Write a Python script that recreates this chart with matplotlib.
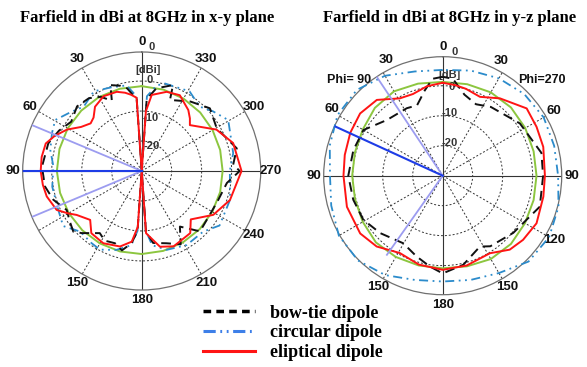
import numpy as np
import matplotlib.pyplot as plt
from matplotlib.lines import Line2D

plt.rcParams['font.family'] = ['Liberation Sans', 'DejaVu Sans']

# radial range of both polar plots (dBi)
R_MIN = -30
R_MAX = 9.7
DB_GRID = [-20, -10, 0]

# ---------------- x-y plane (left) ----------------
xy_bowtie_ang = [0, 4, 10, 14, 20, 23, 29, 36, 45, 55, 64, 73.5, 87.5, 99, 108, 117.5,
                 125, 131.6, 136, 146, 152, 159.7, 166, 172, 176, 180, 184, 189, 199, 208,
                 214.5, 224, 237.2, 249.3, 262, 270, 274, 283.4, 299.6, 312.6, 325, 338.3,
                 340, 350, 356, 360]
xy_bowtie_db = [-30, -6, -2, -0.7, 0.5, -4.5, -1.7, 0, 0.5, -1.3, 0.7, 2.5, 3.3, 2.7, 1, -1.8,
                -0.7, 0.5, -1.2, -5, -3.7, -4.3, -2.7, -5.7, -10, -30, -10, -5.7, -4.5, -2.3,
                -7.5, -2, -3, -2.7, -1.3, 2.7, 0.6, 2.6, -1.2, 0.9, -1.7, -4.5,
                0.5, -2, -6, -30]

xy_circ_ang = [0, 4, 10, 20, 31, 42, 50, 59.5, 67, 77, 87, 100, 115, 125, 134.6, 145, 152,
               162, 172, 176, 180, 184, 188, 197.6, 211.3, 225.4, 235, 252, 270, 281, 300.5,
               310, 318, 329, 345, 350, 356, 360]
xy_circ_db = [-30, -5, -1, -0.3, 1, -1.1, 0.7, 3.5, 2.5, 1.3, -0.5, 0.3, 0.7, 2, -1.2, -0.7, -0.3,
              -2.3, -5, -10, -30, -10, -5, -2.4, -1.1, -1.2, 1.7, 1, -0.6, 1.1, 3.5,
              1, -1.1, 1, 0.2, -1, -5, -30]

xy_ell_ang = [0, 4, 8, 12, 17.5, 27, 36, 42, 47, 54, 61, 68, 74, 82, 90, 98, 105, 114.6, 120,
              124, 133.5, 141, 152, 164, 172, 176, 180, 184, 193.6, 203, 218, 225.4, 238.5,
              251.8, 270, 287, 299, 313.6, 317.5, 322.6, 333.3, 342.5, 352.5, 356, 360]
xy_ell_db = [-30, -5.5, -4.3, -3.3, -2.3, -2.0, -3.5, -6.0, -6.7, -5.0, -1.5, 1.3, 3.3, 3.7, 3.7,
             3.3, 2.8, 1.2, -1.7, -3.8, -6.3, -3.3, -2.7, -3.8, -6.2, -11.3, -30, -9.2, -4.0,
             -2.7, -3.7, -7.0, -2.0, 1.0, 3.3, 1.9, -1.5, -7.8, -6.2, -4.4, -1.7, -2.3, -4.4,
             -10, -30]

xy_ref_ang = list(range(0, 361, 15))
xy_ref_db = [-1.7, -1.6, -1.5, -1.5, -1.5, -1.6, -1.7, -1.8, -1.9, -2.0, -2.1, -2.2, -2.3,
             -2.4, -2.5, -2.6, -2.8, -2.9, -3.0, -2.9, -2.7, -2.4, -2.1, -1.9, -1.7]

xy_main_lobe = 90
xy_3db_dirs = [67.3, 112.7]
xy_3db_ends = [R_MAX, R_MAX]

# ---------------- y-z plane (right) ----------------
yz_bowtie_ang = [0, 6, 12, 20, 28, 45, 60, 74, 90, 105, 119, 132.6, 149.8, 162, 172, 180, 193,
                 207.7, 214, 231, 252.3, 270, 283, 304.1, 325, 335, 345, 354, 360]
yz_bowtie_db = [3.0, 2.5, -1.0, -5.0, -4.5, -3.7, 0.5, 1.0, 1.5, 0.9, 0.3, -1.7, -3.9, -1.7, 0.6,
                2.6, 0.5, -3.3, -1.6, 0.3, 4.0, 3.5, 3.8, 1.1, -2.0, -3.7, -2.0, 2.5, 3.0]

yz_circ_ang = list(range(0, 361, 15))
yz_circ_db = [5.3, 6.0, 8.5, 10.5, 10.5, 9.0, 7.6, 8.5, 10.0, 10.0, 8.3, 6.0, 5.3, 6.0, 7.5,
              10.5, 11.0, 10.0, 8.5, 8.5, 8.9, 8.5, 7.5, 6.3, 5.3]

yz_ell_ang = [0, 10, 20, 29, 41, 53, 65, 78, 90, 108, 125, 137, 151, 165, 180, 195, 211.4,
              222.2, 231.4, 243.1, 258.2, 270, 286, 297.5, 308.7, 323.5, 334.7, 345, 352, 360]
yz_ell_db = [1.0, 0.3, -1.0, -0.5, 3.5, 4.5, 4.0, 3.4, 3.1, 3.6, 3.6, 2.3, -0.5, 0.7, 1.4, 1.0,
             0.3, 3.3, 4.3, 5.1, 4.3, 4.1, 4.9, 5.3, 5.9, 2.1, -0.9, 0.0, 0.5, 1.0]

yz_ref_ang = list(range(0, 361, 15))
yz_ref_db = [1.3, 1.8, 2.5, 2.0, 0.8, 0.3, 0.2, 0.3, 0.8, 1.5, 1.3, 1.0, 0.9, 1.3, 2.1, 2.2,
             1.7, 1.4, 1.3, 1.4, 1.8, 2.2, 2.1, 1.6, 1.3]

yz_main_lobe = 65.4
yz_3db_dirs = [33.7, 144.8]
yz_3db_ends = [R_MAX, 2.3]

# angle labels (plot angle, text)
xy_angle_labels = [(0, "0"), (30, "30"), (60, "60"), (90, "90"), (150, "150"), (180, "180"),
                   (210, "210"), (240, "240"), (270, "270"), (300, "300"), (330, "330")]
yz_angle_labels = [(0, "0"), (26, "30"), (59, "60"), (90, "90"), (150, "150"), (180, "180"),
                   (210, "150"), (240, "120"), (270, "90"), (300, "60"), (333, "30")]

BLACK = "#111111"
CIRC = "#2b8bcb"
RED = "#ff1414"
GREEN = "#8cc63f"
LOBE = "#1e3ce6"
LOBE_3DB = "#9c9cf0"

DASH_BT = (0, (5, 3))
DASH_CIRC = (0, (5, 2.5, 1, 2.5, 1, 2.5))


def label(ax, theta, r, text, dx=0, dy=0, **kw):
    # dx, dy in pixels
    ax.annotate(text, xy=(np.deg2rad(theta), r), xytext=(dx * 0.72, dy * 0.72),
                textcoords="offset points", ha="center", va="center",
                annotation_clip=False, **kw)


def setup(ax):
    ax.set_theta_zero_location("N")
    ax.set_theta_direction(1)
    ax.set_ylim(R_MIN, R_MAX)
    ax.set_yticks(DB_GRID)
    ax.set_yticklabels([])
    ax.set_xticks(np.deg2rad(np.arange(0, 360, 30)))
    ax.set_xticklabels([])
    ax.grid(True, color="#333333", linestyle=(0, (2, 2)), linewidth=0.7)
    ax.spines["polar"].set_color("#707070")
    ax.spines["polar"].set_linewidth(0.9)
    # solid cross
    ax.plot(np.deg2rad([0, 0, 180, 180]), [R_MAX, R_MIN, R_MIN, R_MAX], color="#333333", lw=0.8)
    ax.plot(np.deg2rad([90, 90, 270, 270]), [R_MAX, R_MIN, R_MIN, R_MAX], color="#333333", lw=0.8)


def curves(ax, ref, bt, circ, ell):
    ax.plot(np.deg2rad(ref[0]), ref[1], color=GREEN, lw=1.4, zorder=3)
    ax.plot(np.deg2rad(circ[0]), circ[1], color=CIRC, lw=1.3, ls=DASH_CIRC, zorder=4, clip_on=False)
    ax.plot(np.deg2rad(bt[0]), bt[1], color=BLACK, lw=1.4, ls=DASH_BT, zorder=5)
    ax.plot(np.deg2rad(ell[0]), ell[1], color=RED, lw=1.4, zorder=6)


def lobes(ax, main, dirs, ends):
    for d, e in zip(dirs, ends):
        ax.plot(np.deg2rad([d, d]), [R_MIN, e], color=LOBE_3DB, lw=1.3, zorder=7)
    ax.plot(np.deg2rad([main, main]), [R_MIN, R_MAX], color=LOBE, lw=1.5, zorder=8)


fig = plt.figure(figsize=(5.87, 3.67), dpi=100)

ax1 = fig.add_axes([22.7 / 587, (367 - 290) / 367, 238 / 587, 238 / 367], projection="polar")
ax2 = fig.add_axes([323.7 / 587, (367 - 294.7) / 367, 238 / 587, 238 / 367], projection="polar")

for ax in (ax1, ax2):
    setup(ax)

curves(ax1, (xy_ref_ang, xy_ref_db), (xy_bowtie_ang, xy_bowtie_db),
       (xy_circ_ang, xy_circ_db), (xy_ell_ang, xy_ell_db))
lobes(ax1, xy_main_lobe, xy_3db_dirs, xy_3db_ends)

curves(ax2, (yz_ref_ang, yz_ref_db), (yz_bowtie_ang, yz_bowtie_db),
       (yz_circ_ang, yz_circ_db), (yz_ell_ang, yz_ell_db))
lobes(ax2, yz_main_lobe, yz_3db_dirs, yz_3db_ends)

lab_kw = dict(fontsize=9.5, fontweight="bold", color="#111111")
for th, t in xy_angle_labels:
    label(ax1, th, 13, t, **lab_kw)
for th, t in yz_angle_labels:
    label(ax2, th, 13, t, **lab_kw)
label(ax2, 44.4, 14.7, "Phi= 90", fontsize=9, fontweight="bold", color="#111111")
label(ax2, 314, 16, "Phi=270", fontsize=9, fontweight="bold", color="#111111")

# dB scale labels
db_kw = dict(fontsize=8, fontweight="bold", color="#333333")
label(ax1, 0, 11.4, "0", dx=10, **db_kw)
label(ax1, 0, 3.6, "[dBi]", dx=6, **db_kw)
label(ax1, 0, 0.2, "0", dx=8, **db_kw)
label(ax1, 0, -12.2, "-10", dx=9, **db_kw)
label(ax1, 0, -21.7, "-20", dx=10, **db_kw)

label(ax2, 0, 11.3, "0", dx=12, **db_kw)
label(ax2, 0, 3.6, "[dB]", dx=7, **db_kw)
label(ax2, 0, -0.4, "0", dx=9, **db_kw)
label(ax2, 0, -9.2, "-10", dx=7, **db_kw)
label(ax2, 0, -19.2, "-20", dx=7, **db_kw)

title_kw = dict(ha="center", va="center", fontsize=12, fontweight="bold",
                family=["Liberation Serif", "DejaVu Serif"])
fig.text(146.7 / 587, 1 - 18.5 / 367, "Farfield in dBi at 8GHz in x-y plane", **title_kw)
fig.text(450 / 587, 1 - 18.5 / 367, "Farfield in dBi at 8GHz in y-z plane", **title_kw)

handles = [
    Line2D([], [], color="black", lw=2.5, ls=(0, (2.2, 1.5))),
    Line2D([], [], color="#3d7fe8", lw=2.2, ls=(0, (4, 1.5, 0.6, 1.5, 0.6, 1.5))),
    Line2D([], [], color="#ff1414", lw=2.2),
]
fig.legend(handles, ["bow-tie dipole", "circular dipole", "eliptical dipole"],
           loc="upper left", bbox_to_anchor=(203 / 587, 1 - 304.5 / 367), frameon=False,
           prop=dict(family=["Liberation Serif", "DejaVu Serif"], weight="bold", size=13),
           handlelength=2.9, handletextpad=0.83, labelspacing=0.15,
           borderpad=0, borderaxespad=0)

fig.savefig("out.png", dpi=100, facecolor="white")
